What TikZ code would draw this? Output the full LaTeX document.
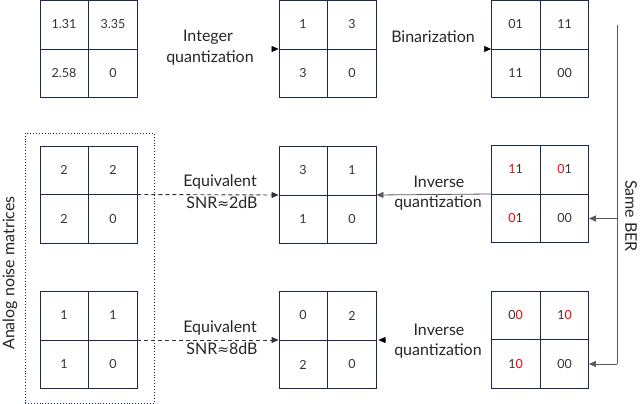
\documentclass[tikz,border=0pt]{standalone}
\usepackage{fontspec}
\setmainfont{Lato}
\newfontfamily\symfont{DejaVu Sans}
\usetikzlibrary{arrows.meta,calc}
\definecolor{navy}{HTML}{1C2A52}
\definecolor{conn}{HTML}{595959}
\newcommand{\mgrid}[6]{%
  \node[mbox] (#1) at (#2) {};
  \draw[navy,line width=0.9pt] (#1.north) -- (#1.south) (#1.west) -- (#1.east);
  \node[num] (#1a) at ($(#1)+(-24.5,-24.5)$) {#3};
  \node[num] (#1b) at ($(#1)+(24.5,-24.5)$) {#4};
  \node[num] (#1c) at ($(#1)+(-24.5,24.5)$) {#5};
  \node[num] (#1d) at ($(#1)+(24.5,24.5)$) {#6};}
\newcommand{\rd}[1]{\textcolor{red}{#1}}
\begin{document}
\begin{tikzpicture}[x=1pt,y=-1pt,
  mbox/.style={draw=navy,line width=0.9pt,minimum width=97pt,minimum height=97pt,inner sep=0pt},
  num/.style={font=\fontsize{12.5}{14}\selectfont,text=black!80},
  lbl/.style={font=\fontsize{16}{18}\selectfont,text=black!85,inner sep=1pt},
  tip/.style={-{Triangle[length=7pt,width=6pt]}},
  conline/.style={draw=conn,line width=0.8pt,tip},
  dashline/.style={draw=black!80,line width=0.9pt,dash pattern=on 4pt off 3pt,tip}]
\useasboundingbox (0,0) rectangle (640,404);
% top row
\mgrid{ta}{88.5,49}{1.31}{3.35}{2.58}{0}
\mgrid{tb}{327.5,49}{1}{3}{3}{0}
\mgrid{tc}{540,49}{01}{11}{11}{00}
% middle row
\mgrid{ma}{88.5,194.5}{2}{2}{2}{0}
\mgrid{mb}{327.5,195}{3}{1}{1}{0}
\mgrid{mc}{540,194}{\rd{1}1}{\rd{0}1}{\rd{0}1}{00}
% bottom row
\mgrid{ba}{88.5,340}{1}{1}{1}{0}
\mgrid{bb}{327.5,340}{0}{2}{2}{0}
\mgrid{bc}{540,339.5}{0\rd{0}}{1\rd{0}}{1\rd{0}}{00}
% dotted group box
\node[draw=navy,line width=0.9pt,dotted,minimum width=129pt,minimum height=270pt,inner sep=0pt] (grp) at (89.5,268) {};
\node[lbl,rotate=90] (grplbl) at (10,273) {Analog noise matrices};
% top labels and arrows
\node[lbl] (iq1) at (208,37) {Integer};
\node[lbl] (iq2) at (210,58) {quantization};
\node[lbl] (bin) at (433,37) {Binarization};
\coordinate (tbin) at ($(tb.west)+(-7,0)$);
\draw[tip] (tbin) -- (tb.west);
\coordinate (tcin) at ($(tc.west)+(-7,0)$);
\draw[tip] (tcin) -- (tc.west);
% middle arrows
\draw[dashline] (ma.east) -- (mb.west);
\node[lbl] (eq1) at (220,182) {Equivalent};
\node[lbl] (snr1) at (222,203) {SNR{\symfont\fontsize{14}{16}\selectfont ≈}2dB};
\draw[conline] (mc.west) -- (mb.east);
\node[lbl] (inv1) at (439,182) {Inverse};
\node[lbl] (invq1) at (438,203) {quantization};
% bottom arrows
\draw[dashline] (ba.east) -- (bb.west);
\node[lbl] (eq2) at (220,328) {Equivalent};
\node[lbl] (snr2) at (222,349) {SNR{\symfont\fontsize{14}{16}\selectfont ≈}8dB};
\coordinate (bbin) at ($(bb.east)+(9,0)$);
\draw[tip] (bbin) -- ($(bb.east)+(2,0)$);
\node[lbl] (inv2) at (439,330) {Inverse};
\node[lbl] (invq2) at (438,351) {quantization};
% same BER
\coordinate (ber0) at (617,25);
\coordinate (ber1) at (617,218.5);
\coordinate (ber2) at (617,364);
\draw[conn,line width=0.8pt] (ber0) -- (ber2);
\draw[conline] (ber1) -- (mc.east |- ber1);
\draw[conline] (ber2) -- (bc.east |- ber2);
\node[lbl,rotate=-90] (berlbl) at (631,216) {Same BER};
\end{tikzpicture}
\end{document}
